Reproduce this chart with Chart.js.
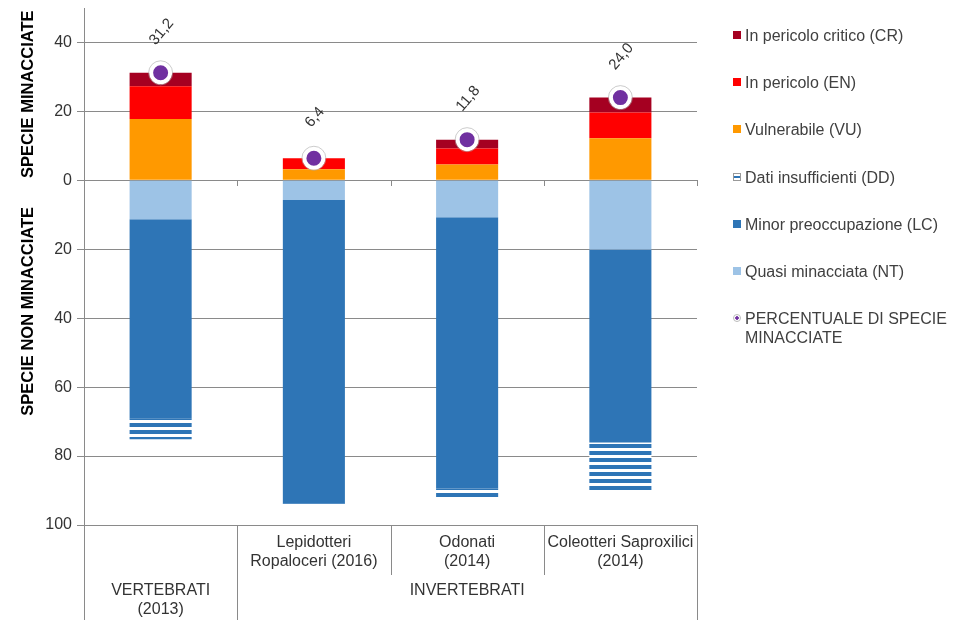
<!DOCTYPE html>
<html><head><meta charset="utf-8">
<script src="https://cdn.jsdelivr.net/npm/chart.js@4.4.1/dist/chart.umd.min.js"></script>
<style>
html,body{margin:0;padding:0;background:#fff;}
#wrap{position:relative;width:967px;height:620px;overflow:hidden;}
#legend{position:absolute;left:0;top:0;}
.li{position:absolute;left:733px;display:flex;align-items:flex-start;font:16px 'Liberation Sans',Arial,sans-serif;color:#404040;line-height:19px;white-space:nowrap;}
.mk{width:8px;height:8px;margin-right:4px;margin-top:5px;box-sizing:border-box;flex:none;}
</style></head><body>
<div id="wrap"><canvas id="c" width="967" height="620"></canvas><div id="legend"></div></div>
<script>
// ---- data ----
const categories = ['VERTEBRATI (2013)', 'Lepidotteri Ropaloceri (2016)', 'Odonati (2014)', 'Coleotteri Saproxilici (2014)'];
const topLabels = [[], ['Lepidotteri', 'Ropaloceri (2016)'], ['Odonati', '(2014)'], ['Coleotteri Saproxilici', '(2014)']];
const groupLabels = [{from: 0, to: 0, lines: ['VERTEBRATI', '(2013)']}, {from: 1, to: 3, lines: ['INVERTEBRATI']}];
const vu = [17.8, 3.2, 4.6, 12.2];
const en = [9.5, 3.2, 4.6, 7.5];
const cr = [3.9, 0, 2.6, 4.3];
const nt = [-11.3, -5.7, -10.7, -20.1];
const lc = [-57.9, -88.0, -78.7, -56.0];
const dd = [-5.9, -0.4, -2.5, -13.9];
const pct = [31.2, 6.4, 11.8, 24.0];
const yTicks = [-100, -80, -60, -40, -20, 0, 20, 40];
const axisTitleUp = 'SPECIE MINACCIATE';
const axisTitleDown = 'SPECIE NON MINACCIATE';
const names = {
  cr: 'In pericolo critico (CR)', en: 'In pericolo (EN)', vu: 'Vulnerabile (VU)',
  dd: 'Dati insufficienti (DD)', lc: 'Minor preoccupazione (LC)', nt: 'Quasi minacciata (NT)',
  pct: 'PERCENTUALE DI SPECIE<br>MINACCIATE'
};
// ---- styles ----
const COL = {cr: '#A50021', en: '#FF0000', vu: '#FF9900', lc: '#2E75B6', nt: '#9DC3E6', pct: '#7030A0'};
const FONT = "'Liberation Sans', Arial, sans-serif";
const GRID = '#8a8a8a';

const pc = document.createElement('canvas');
pc.width = 8; pc.height = 7;
const pctx = pc.getContext('2d');
pctx.fillStyle = '#ffffff'; pctx.fillRect(0, 0, 8, 7);
pctx.fillStyle = COL.lc; pctx.fillRect(0, 3, 8, 4);
const ddPattern = document.getElementById('c').getContext('2d').createPattern(pc, 'repeat');

const barCommon = {barPercentage: 0.405, categoryPercentage: 1, borderWidth: 0, stack: 's'};

const extras = {
  id: 'extras',
  afterDatasetsDraw(chart) {
    const ctx = chart.ctx;
    const meta = chart.getDatasetMeta(chart.data.datasets.findIndex(d => d.type === 'line'));
    ctx.save();
    // faint outer ring of the markers
    ctx.strokeStyle = 'rgba(170,170,170,0.6)';
    ctx.lineWidth = 1;
    meta.data.forEach(p => { ctx.beginPath(); ctx.arc(p.x, p.y, 12, 0, Math.PI * 2); ctx.stroke(); });
    ctx.fillStyle = '#333';
    ctx.font = '15px ' + FONT;
    ctx.textAlign = 'center';
    ctx.textBaseline = 'middle';
    meta.data.forEach((p, i) => {
      ctx.save();
      ctx.translate(p.x + 1, p.y - 41);
      ctx.rotate(-50 * Math.PI / 180);
      ctx.fillText(pct[i].toFixed(1).replace('.', ','), 0, 0);
      ctx.restore();
    });
    ctx.restore();
  },
  afterDraw(chart) {
    const ctx = chart.ctx;
    const a = chart.chartArea;
    const y = chart.scales.y;
    const n = categories.length;
    const w = (a.right - a.left) / n;
    const H = chart.height;
    ctx.save();
    // axis titles
    ctx.fillStyle = '#000';
    ctx.font = 'bold 16.5px ' + FONT;
    ctx.textAlign = 'center';
    ctx.textBaseline = 'middle';
    const y0 = y.getPixelForValue(0);
    ctx.save(); ctx.translate(28, (y.getPixelForValue(50) + y0) / 2); ctx.rotate(-Math.PI / 2);
    ctx.fillText(axisTitleUp, 0, 0); ctx.restore();
    ctx.save(); ctx.translate(28, y.getPixelForValue(-38)); ctx.rotate(-Math.PI / 2);
    ctx.fillText(axisTitleDown, 0, 0); ctx.restore();
    // category separators
    ctx.strokeStyle = GRID; ctx.lineWidth = 1;
    const px = v => Math.round(v) + 0.5;
    const groupEdges = new Set([0]);
    groupLabels.forEach(g => { groupEdges.add(g.from); groupEdges.add(g.to + 1); });
    for (let i = 0; i <= n; i++) {
      const x = px(a.left + i * w);
      ctx.beginPath();
      ctx.moveTo(x, a.bottom);
      ctx.lineTo(x, groupEdges.has(i) ? H : a.bottom + 50);
      ctx.stroke();
      if (i > 0) {
        ctx.beginPath(); ctx.moveTo(x, Math.round(y0)); ctx.lineTo(x, Math.round(y0) + 6); ctx.stroke();
      }
    }
    // labels
    ctx.fillStyle = '#333';
    ctx.font = '16px ' + FONT;
    topLabels.forEach((lines, i) => {
      const cx = a.left + (i + 0.5) * w;
      lines.forEach((t, k) => ctx.fillText(t, cx, a.bottom + 18 + k * 19));
    });
    groupLabels.forEach(g => {
      const cx = a.left + ((g.from + g.to + 1) / 2) * w;
      g.lines.forEach((t, k) => ctx.fillText(t, cx, a.bottom + 66 + k * 19));
    });
    ctx.restore();
  }
};

new Chart(document.getElementById('c'), {
  data: {
    labels: categories,
    datasets: [
      {type: 'line', label: 'pct', data: pct, stack: 'p', showLine: false, order: -1,
        pointRadius: 9.5, pointHoverRadius: 9.5, pointBackgroundColor: COL.pct,
        pointBorderColor: '#fff', pointBorderWidth: 4, clip: false},
      Object.assign({type: 'bar', label: 'vu', data: vu, backgroundColor: COL.vu}, barCommon),
      Object.assign({type: 'bar', label: 'en', data: en, backgroundColor: COL.en}, barCommon),
      Object.assign({type: 'bar', label: 'cr', data: cr, backgroundColor: COL.cr}, barCommon),
      Object.assign({type: 'bar', label: 'nt', data: nt, backgroundColor: COL.nt}, barCommon),
      Object.assign({type: 'bar', label: 'lc', data: lc, backgroundColor: COL.lc}, barCommon),
      Object.assign({type: 'bar', label: 'dd', data: dd, backgroundColor: ddPattern}, barCommon)
    ]
  },
  options: {
    responsive: false,
    animation: false,
    devicePixelRatio: 1,
    layout: {autoPadding: false, padding: {left: 0, top: 8, right: 270, bottom: 0}},
    plugins: {legend: {display: false}, tooltip: {enabled: false}},
    scales: {
      x: {
        type: 'category', stacked: true, offset: true,
        ticks: {display: false}, grid: {display: false}, border: {display: false},
        afterFit(s) { s.height = 95; s.paddingLeft = 0; s.paddingRight = 0; }
      },
      y: {
        stacked: true, min: -100, max: 50,
        afterBuildTicks(s) { s.ticks = yTicks.map(v => ({value: v})); },
        afterFit(s) { s.width = 84; s.paddingTop = 0; s.paddingBottom = 0; },
        ticks: {callback: v => Math.abs(v), color: '#333', font: {family: FONT, size: 16}, padding: 5},
        grid: {color: GRID, tickLength: 7, lineWidth: 1},
        border: {color: GRID}
      }
    }
  },
  plugins: [extras]
});

// ---- HTML legend ----
const legendOrder = ['cr', 'en', 'vu', 'dd', 'lc', 'nt', 'pct'];
const lg = document.getElementById('legend');
legendOrder.forEach((k, i) => {
  const d = document.createElement('div');
  d.className = 'li';
  d.style.top = (26 + i * 47.2) + 'px';
  let mk;
  if (k === 'dd') {
    mk = '<span class="mk" style="border:1px solid #999;background:linear-gradient(#fff 0,#fff 2px,' + COL.lc + ' 2px,' + COL.lc + ' 4px,#fff 4px)"></span>';
  } else if (k === 'pct') {
    mk = '<span class="mk" style="border:1px solid #bbb;border-radius:50%;background:radial-gradient(circle,' + COL.pct + ' 0,' + COL.pct + ' 1.5px,#fff 2px)"></span>';
  } else {
    mk = '<span class="mk" style="background:' + COL[k] + '"></span>';
  }
  d.innerHTML = mk + '<span>' + names[k] + '</span>';
  lg.appendChild(d);
});
</script>
</body></html>
